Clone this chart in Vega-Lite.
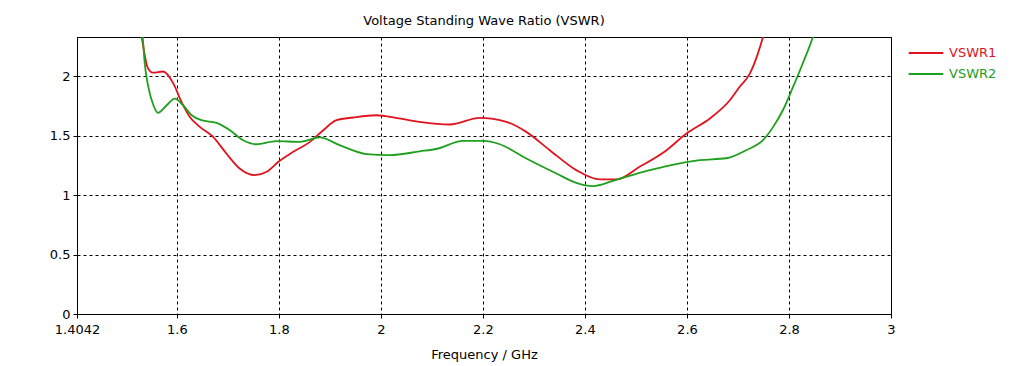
{
  "$schema": "https://vega.github.io/schema/vega-lite/v6.json",
  "width": 814,
  "height": 277,
  "autosize": {"type": "none"},
  "padding": {"left": 77, "top": 37, "right": 138, "bottom": 52},
  "background": "white",
  "config": {
    "font": "DejaVu Sans",
    "view": {"stroke": "black", "strokeWidth": 1},
    "axis": {"labelFont": "DejaVu Sans", "labelFontSize": 13, "labelColor": "black", "titleFont": "DejaVu Sans", "titleFontSize": 13, "titleFontWeight": "normal", "titleColor": "black", "domainColor": "black", "tickColor": "black", "tickSize": 4, "gridColor": "black", "gridDash": [3, 3], "gridOpacity": 1, "gridWidth": 1}
  },
  "title": {"text": "Voltage Standing Wave Ratio (VSWR)", "font": "DejaVu Sans", "fontSize": 13, "fontWeight": "normal", "color": "black", "offset": 9, "anchor": "middle"},
  "data": {"values": [
    {"s": "VSWR1", "f": 1.52, "v": 2.6},
    {"s": "VSWR1", "f": 1.531, "v": 2.33},
    {"s": "VSWR1", "f": 1.543, "v": 2.07},
    {"s": "VSWR1", "f": 1.553, "v": 2.03},
    {"s": "VSWR1", "f": 1.573, "v": 2.04},
    {"s": "VSWR1", "f": 1.593, "v": 1.94},
    {"s": "VSWR1", "f": 1.609, "v": 1.784},
    {"s": "VSWR1", "f": 1.625, "v": 1.66},
    {"s": "VSWR1", "f": 1.645, "v": 1.574},
    {"s": "VSWR1", "f": 1.671, "v": 1.49},
    {"s": "VSWR1", "f": 1.697, "v": 1.35},
    {"s": "VSWR1", "f": 1.723, "v": 1.224},
    {"s": "VSWR1", "f": 1.753, "v": 1.168},
    {"s": "VSWR1", "f": 1.776, "v": 1.196},
    {"s": "VSWR1", "f": 1.799, "v": 1.28},
    {"s": "VSWR1", "f": 1.828, "v": 1.364},
    {"s": "VSWR1", "f": 1.861, "v": 1.448},
    {"s": "VSWR1", "f": 1.887, "v": 1.546},
    {"s": "VSWR1", "f": 1.913, "v": 1.63},
    {"s": "VSWR1", "f": 1.946, "v": 1.653},
    {"s": "VSWR1", "f": 1.991, "v": 1.672},
    {"s": "VSWR1", "f": 2.035, "v": 1.645},
    {"s": "VSWR1", "f": 2.076, "v": 1.616},
    {"s": "VSWR1", "f": 2.135, "v": 1.594},
    {"s": "VSWR1", "f": 2.194, "v": 1.65},
    {"s": "VSWR1", "f": 2.246, "v": 1.616},
    {"s": "VSWR1", "f": 2.285, "v": 1.532},
    {"s": "VSWR1", "f": 2.331, "v": 1.378},
    {"s": "VSWR1", "f": 2.383, "v": 1.21},
    {"s": "VSWR1", "f": 2.429, "v": 1.132},
    {"s": "VSWR1", "f": 2.462, "v": 1.132},
    {"s": "VSWR1", "f": 2.507, "v": 1.238},
    {"s": "VSWR1", "f": 2.56, "v": 1.378},
    {"s": "VSWR1", "f": 2.599, "v": 1.518},
    {"s": "VSWR1", "f": 2.645, "v": 1.645},
    {"s": "VSWR1", "f": 2.684, "v": 1.798},
    {"s": "VSWR1", "f": 2.703, "v": 1.91},
    {"s": "VSWR1", "f": 2.723, "v": 2.02},
    {"s": "VSWR1", "f": 2.739, "v": 2.19},
    {"s": "VSWR1", "f": 2.749, "v": 2.33},
    {"s": "VSWR1", "f": 2.765, "v": 2.6},
    {"s": "VSWR2", "f": 1.525, "v": 2.6},
    {"s": "VSWR2", "f": 1.533, "v": 2.33},
    {"s": "VSWR2", "f": 1.537, "v": 2.107},
    {"s": "VSWR2", "f": 1.544, "v": 1.91},
    {"s": "VSWR2", "f": 1.554, "v": 1.756},
    {"s": "VSWR2", "f": 1.563, "v": 1.692},
    {"s": "VSWR2", "f": 1.58, "v": 1.756},
    {"s": "VSWR2", "f": 1.596, "v": 1.812},
    {"s": "VSWR2", "f": 1.612, "v": 1.756},
    {"s": "VSWR2", "f": 1.629, "v": 1.672},
    {"s": "VSWR2", "f": 1.648, "v": 1.63},
    {"s": "VSWR2", "f": 1.678, "v": 1.608},
    {"s": "VSWR2", "f": 1.704, "v": 1.546},
    {"s": "VSWR2", "f": 1.73, "v": 1.462},
    {"s": "VSWR2", "f": 1.756, "v": 1.428},
    {"s": "VSWR2", "f": 1.795, "v": 1.454},
    {"s": "VSWR2", "f": 1.841, "v": 1.448},
    {"s": "VSWR2", "f": 1.88, "v": 1.485},
    {"s": "VSWR2", "f": 1.919, "v": 1.42},
    {"s": "VSWR2", "f": 1.972, "v": 1.345},
    {"s": "VSWR2", "f": 2.017, "v": 1.336},
    {"s": "VSWR2", "f": 2.076, "v": 1.368},
    {"s": "VSWR2", "f": 2.11, "v": 1.39},
    {"s": "VSWR2", "f": 2.161, "v": 1.456},
    {"s": "VSWR2", "f": 2.2, "v": 1.456},
    {"s": "VSWR2", "f": 2.233, "v": 1.428},
    {"s": "VSWR2", "f": 2.285, "v": 1.308},
    {"s": "VSWR2", "f": 2.344, "v": 1.182},
    {"s": "VSWR2", "f": 2.383, "v": 1.103},
    {"s": "VSWR2", "f": 2.416, "v": 1.076},
    {"s": "VSWR2", "f": 2.455, "v": 1.12},
    {"s": "VSWR2", "f": 2.507, "v": 1.187},
    {"s": "VSWR2", "f": 2.56, "v": 1.244},
    {"s": "VSWR2", "f": 2.625, "v": 1.294},
    {"s": "VSWR2", "f": 2.677, "v": 1.31},
    {"s": "VSWR2", "f": 2.716, "v": 1.378},
    {"s": "VSWR2", "f": 2.749, "v": 1.462},
    {"s": "VSWR2", "f": 2.769, "v": 1.574},
    {"s": "VSWR2", "f": 2.788, "v": 1.714},
    {"s": "VSWR2", "f": 2.808, "v": 1.91},
    {"s": "VSWR2", "f": 2.827, "v": 2.107},
    {"s": "VSWR2", "f": 2.847, "v": 2.33},
    {"s": "VSWR2", "f": 2.86, "v": 2.5}
  ]},
  "mark": {"type": "line", "interpolate": "monotone", "strokeWidth": 1.8, "clip": true},
  "encoding": {
    "x": {"field": "f", "type": "quantitative", "scale": {"domain": [1.4042, 3], "nice": false, "zero": false},
      "axis": {"values": [1.4042, 1.6, 1.8, 2, 2.2, 2.4, 2.6, 2.8, 3], "labelExpr": "'' + datum.value", "title": "Frequency / GHz", "labelPadding": 5, "titlePadding": 12, "labelFlush": false}},
    "y": {"field": "v", "type": "quantitative", "scale": {"domain": [0, 2.33], "nice": false},
      "axis": {"values": [0, 0.5, 1, 1.5, 2], "labelExpr": "'' + datum.value", "title": null, "labelPadding": 3}},
    "color": {"field": "s", "type": "nominal", "scale": {"domain": ["VSWR1", "VSWR2"], "range": ["#e0141e", "#1ea01e"]},
      "legend": {"title": null, "orient": "none", "legendX": 839, "legendY": 6, "symbolType": "M-2,0H2", "symbolSize": 300, "symbolStrokeWidth": 2, "labelFont": "DejaVu Sans", "labelFontSize": 13, "labelColor": {"expr": "datum.label == 'VSWR1' ? '#e0141e' : '#1ea01e'"}, "labelOffset": 13, "rowPadding": 4}}
  }
}
